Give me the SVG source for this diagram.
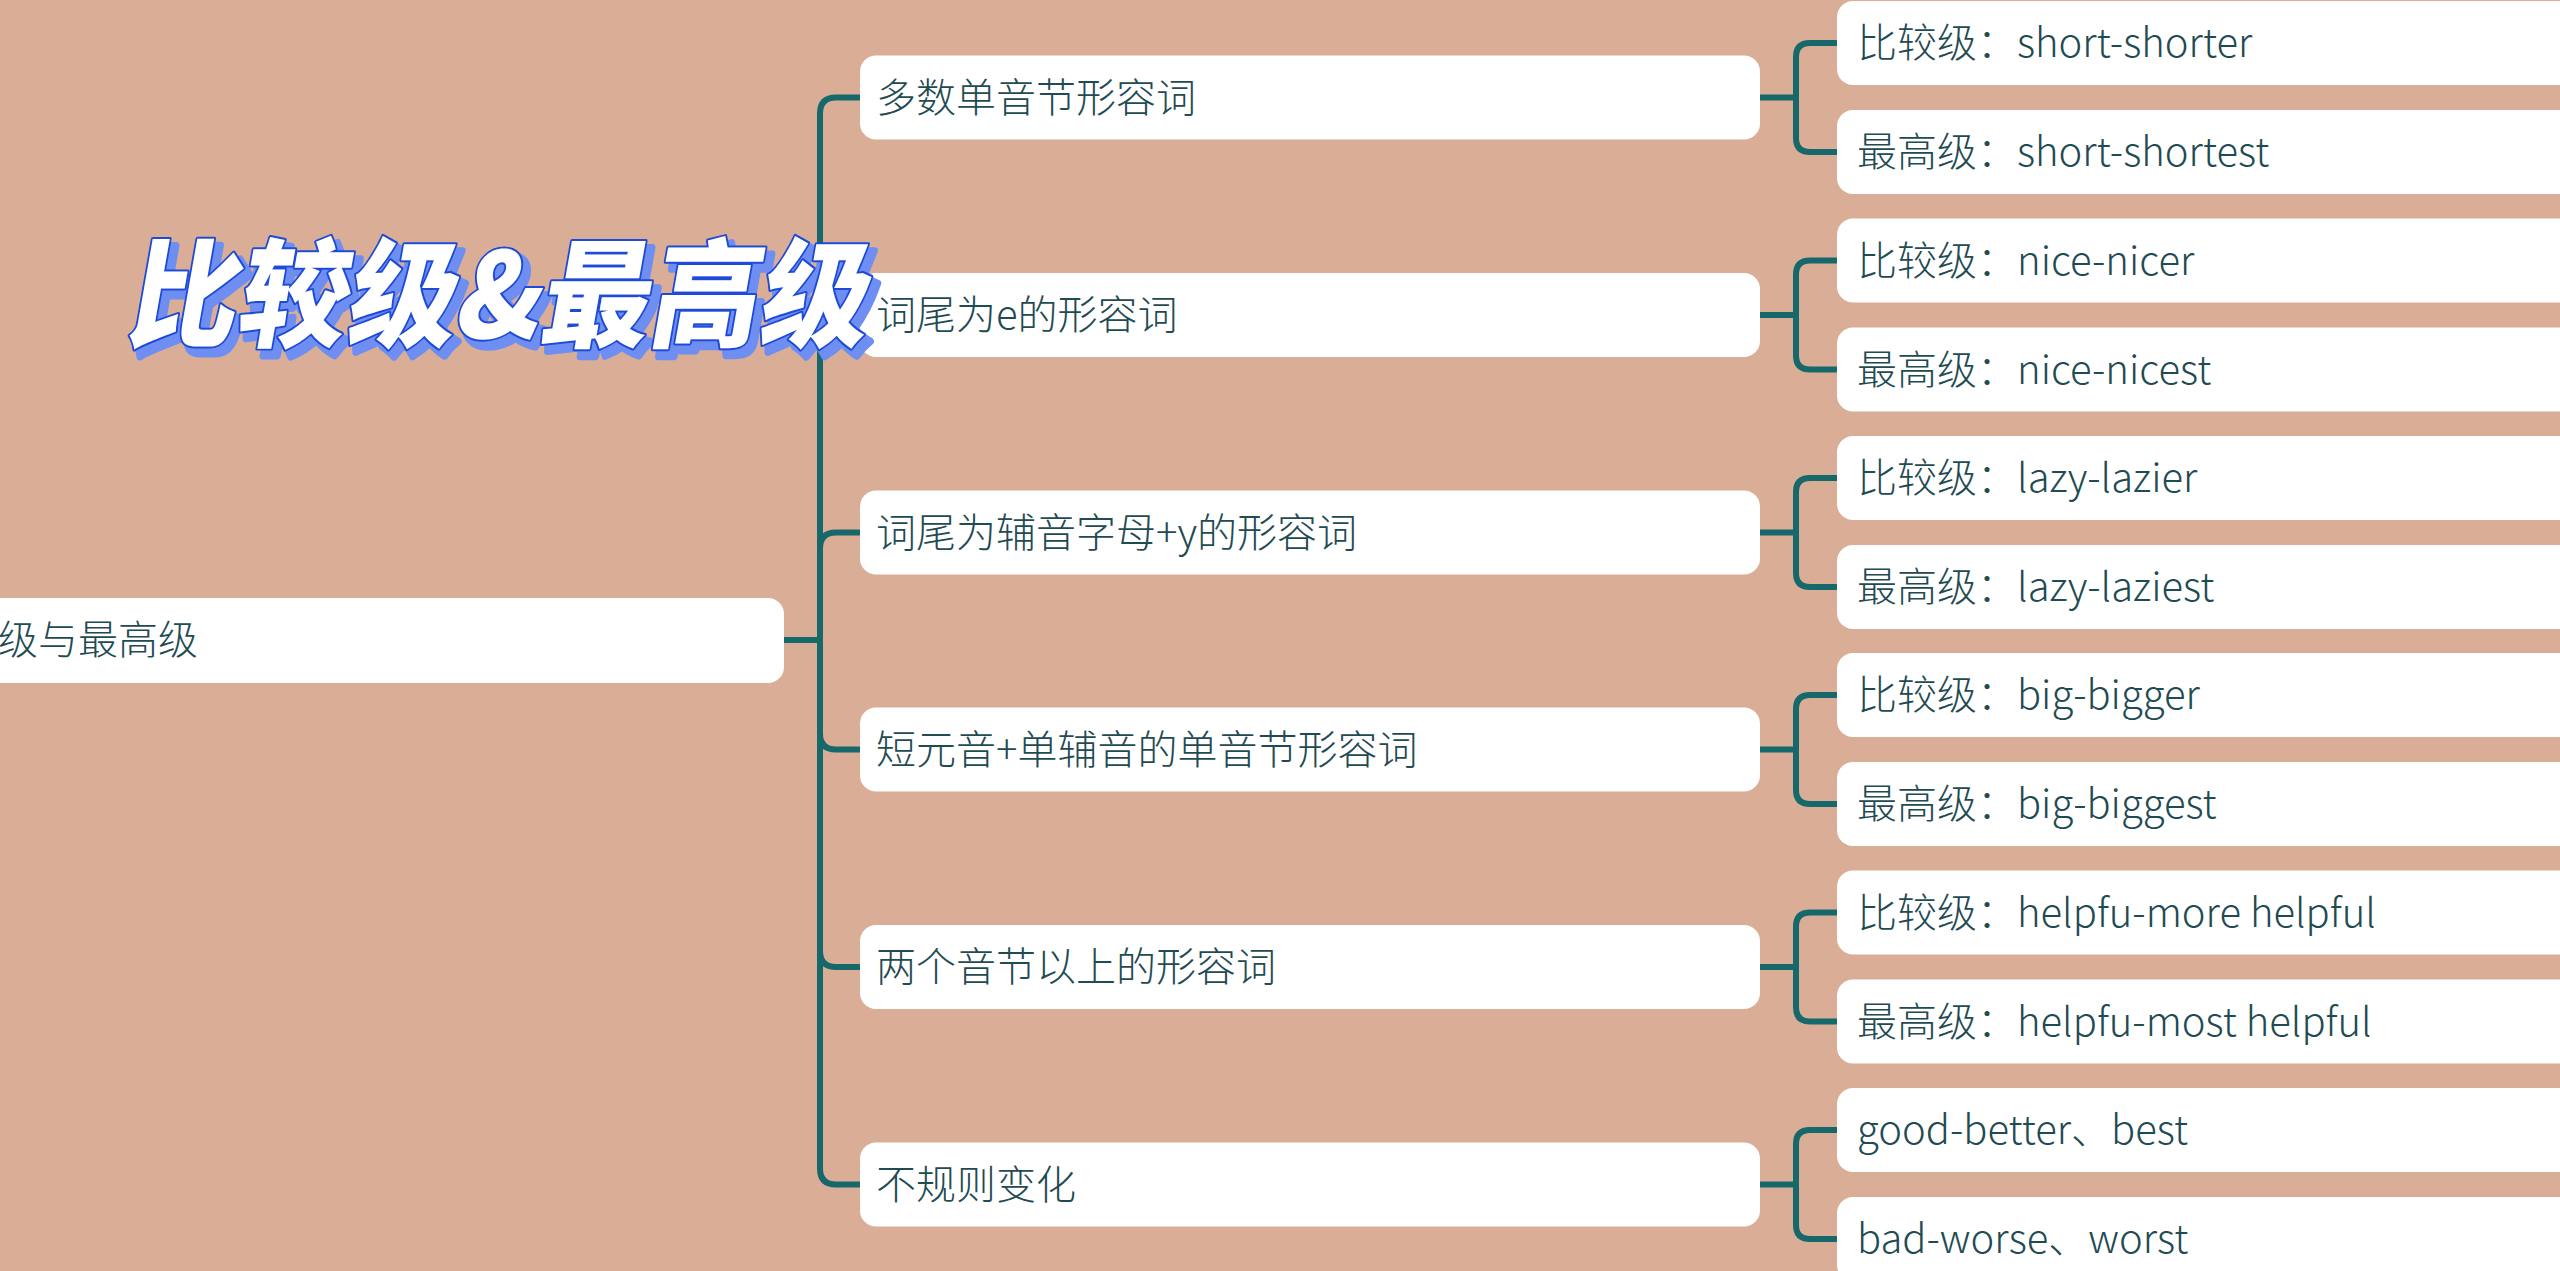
<svg xmlns="http://www.w3.org/2000/svg" width="2560" height="1271" viewBox="0 0 2560 1271">
<style>
.bg{fill:#daae96}
.box{fill:#ffffff}
.t{font-family:"Noto Sans CJK SC","Noto Sans",sans-serif;font-size:40px;font-weight:300;fill:#1f4b53}
.c{fill:none;stroke:#17686a;stroke-width:6;stroke-linecap:round;stroke-linejoin:round}
.title{font-family:"Noto Sans CJK SC","Noto Sans",sans-serif;font-size:118px;font-weight:900}
.tsh{fill:#6e8ef2;stroke:#6e8ef2;stroke-width:8;stroke-linejoin:round}
.tmain{fill:#ffffff;stroke:#1d4ad8;stroke-width:4;stroke-linejoin:round;paint-order:stroke}
</style>
<rect class="bg" x="0" y="0" width="2560" height="1271"/>
<g id="connectors">
<path class="c" d="M784 640 H820 V113.5 Q820 97.5 836 97.5 H862"/>
<path class="c" d="M784 640 H820 V331 Q820 315 836 315 H862"/>
<path class="c" d="M784 640 H820 V548.5 Q820 532.5 836 532.5 H862"/>
<path class="c" d="M784 640 H820 V733.5 Q820 749.5 836 749.5 H862"/>
<path class="c" d="M784 640 H820 V951 Q820 967 836 967 H862"/>
<path class="c" d="M784 640 H820 V1168.5 Q820 1184.5 836 1184.5 H862"/>
<path class="c" d="M1758 97.5 H1796 V57 Q1796 43 1810 43 H1840 M1796 97.5 V138 Q1796 152 1810 152 H1840"/>
<path class="c" d="M1758 315 H1796 V274.5 Q1796 260.5 1810 260.5 H1840 M1796 315 V355.5 Q1796 369.5 1810 369.5 H1840"/>
<path class="c" d="M1758 532.5 H1796 V492 Q1796 478 1810 478 H1840 M1796 532.5 V573 Q1796 587 1810 587 H1840"/>
<path class="c" d="M1758 749.5 H1796 V709 Q1796 695 1810 695 H1840 M1796 749.5 V790 Q1796 804 1810 804 H1840"/>
<path class="c" d="M1758 967 H1796 V926.5 Q1796 912.5 1810 912.5 H1840 M1796 967 V1007.5 Q1796 1021.5 1810 1021.5 H1840"/>
<path class="c" d="M1758 1184.5 H1796 V1144 Q1796 1130 1810 1130 H1840 M1796 1184.5 V1225 Q1796 1239 1810 1239 H1840"/>
</g>
<g id="root"><rect class="box" x="-30" y="598" width="814" height="85" rx="16"/><text class="t" x="-2" y="654">级与最高级</text></g>
<g id="n1"><rect class="box" x="860" y="55.5" width="900" height="84" rx="16"/><text class="t" x="876" y="111.5">多数单音节形容词</text></g>
<g id="n2"><rect class="box" x="860" y="273" width="900" height="84" rx="16"/><text class="t" x="876" y="329">词尾为e的形容词</text></g>
<g id="n3"><rect class="box" x="860" y="490.5" width="900" height="84" rx="16"/><text class="t" x="876" y="546.5">词尾为辅音字母+y的形容词</text></g>
<g id="n4"><rect class="box" x="860" y="707.5" width="900" height="84" rx="16"/><text class="t" x="876" y="763.5">短元音+单辅音的单音节形容词</text></g>
<g id="n5"><rect class="box" x="860" y="925" width="900" height="84" rx="16"/><text class="t" x="876" y="981">两个音节以上的形容词</text></g>
<g id="n6"><rect class="box" x="860" y="1142.5" width="900" height="84" rx="16"/><text class="t" x="876" y="1198.5">不规则变化</text></g>
<g id="l1a"><rect class="box" x="1837" y="1" width="800" height="84" rx="16"/><text class="t" x="1857" y="57">比较级：short-shorter</text></g>
<g id="l1b"><rect class="box" x="1837" y="110" width="800" height="84" rx="16"/><text class="t" x="1857" y="166">最高级：short-shortest</text></g>
<g id="l2a"><rect class="box" x="1837" y="218.5" width="800" height="84" rx="16"/><text class="t" x="1857" y="274.5">比较级：nice-nicer</text></g>
<g id="l2b"><rect class="box" x="1837" y="327.5" width="800" height="84" rx="16"/><text class="t" x="1857" y="383.5">最高级：nice-nicest</text></g>
<g id="l3a"><rect class="box" x="1837" y="436" width="800" height="84" rx="16"/><text class="t" x="1857" y="492">比较级：lazy-lazier</text></g>
<g id="l3b"><rect class="box" x="1837" y="545" width="800" height="84" rx="16"/><text class="t" x="1857" y="601">最高级：lazy-laziest</text></g>
<g id="l4a"><rect class="box" x="1837" y="653" width="800" height="84" rx="16"/><text class="t" x="1857" y="709">比较级：big-bigger</text></g>
<g id="l4b"><rect class="box" x="1837" y="762" width="800" height="84" rx="16"/><text class="t" x="1857" y="818">最高级：big-biggest</text></g>
<g id="l5a"><rect class="box" x="1837" y="870.5" width="800" height="84" rx="16"/><text class="t" x="1857" y="926.5">比较级：helpfu-more helpful</text></g>
<g id="l5b"><rect class="box" x="1837" y="979.5" width="800" height="84" rx="16"/><text class="t" x="1857" y="1035.5">最高级：helpfu-most helpful</text></g>
<g id="l6a"><rect class="box" x="1837" y="1088" width="800" height="84" rx="16"/><text class="t" x="1857" y="1144">good-better、best</text></g>
<g id="l6b"><rect class="box" x="1837" y="1197" width="800" height="84" rx="16"/><text class="t" x="1857" y="1253">bad-worse、worst</text></g>
<g id="title">
<g transform="translate(131,345) skewX(-10)"><text class="title tsh" x="0" y="0" textLength="740" lengthAdjust="spacingAndGlyphs">比较级&amp;最高级</text></g>
<g transform="translate(125,338) skewX(-10)"><text class="title tmain" x="0" y="0" textLength="740" lengthAdjust="spacingAndGlyphs">比较级&amp;最高级</text></g>
</g>
</svg>
